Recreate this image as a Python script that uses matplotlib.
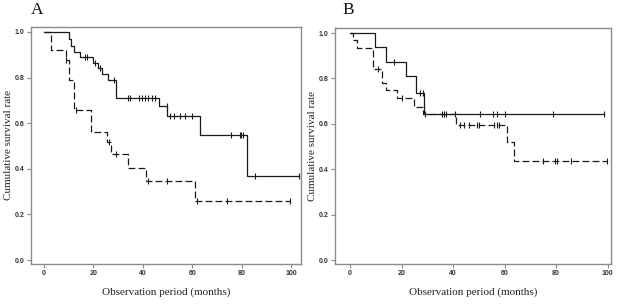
import matplotlib
matplotlib.use("Agg")
import matplotlib.pyplot as plt

# ---------------- data ----------------
# Panel A
a_solid_t = [0, 10, 11, 12, 14.5, 20, 22, 23.5, 26, 29, 46.5, 50, 63, 82]
a_solid_s = [1.0, 0.97, 0.94, 0.91, 0.89, 0.865, 0.84, 0.815, 0.79, 0.71, 0.675, 0.633, 0.55, 0.37]
a_solid_end = 103.4
a_solid_cens = [16.5, 17.5, 20.6, 22.7, 28.4, 34.2, 34.9, 38.3, 39.6, 41, 42.3, 43.7, 45,
                49.8, 50.9, 52.8, 55.2, 57.3, 60, 75.6, 79.2, 79.9, 80.6, 85.3, 103.4]

a_dash_t = [0, 2.7, 8.8, 10, 12.3, 18.9, 25.6, 27, 33.9, 41.2, 61]
a_dash_s = [1.0, 0.92, 0.878, 0.79, 0.658, 0.562, 0.517, 0.463, 0.404, 0.348, 0.26]
a_dash_end = 99.7
a_dash_cens = [9.1, 12.9, 26.5, 29, 42.3, 49.8, 62, 74.2, 99.7]

# Panel B
b_solid_t = [0, 9.6, 13.9, 21.6, 25.5, 28.6]
b_solid_s = [1.0, 0.938, 0.873, 0.81, 0.735, 0.643]
b_solid_end = 98.7
b_solid_cens = [16.9, 27.3, 28.2, 29.2, 35.7, 36.6, 37.4, 40.9, 50.3, 55.3, 56.9, 60, 78.6, 98.7]

b_dash_t = [0, 1.3, 2.9, 9.0, 12.5, 14.0, 18.4, 24.9, 28.5, 41.3, 61.0, 63.6]
b_dash_s = [1.0, 0.97, 0.935, 0.843, 0.78, 0.748, 0.713, 0.676, 0.645, 0.597, 0.52, 0.437]
b_dash_end = 99.6
b_dash_cens = [10.8, 20.0, 42.6, 44.2, 46.1, 49.4, 49.9, 55.8, 56.9, 57.8, 74.7, 79.5, 80.3, 85.7, 99.6]

x_ticks = [0, 20, 40, 60, 80, 100]
y_ticks = [0.0, 0.2, 0.4, 0.6, 0.8, 1.0]
y_tick_labels = ["0.0", "0.2", "0.4", "0.6", "0.8", "1.0"]
ylabel = "Cumulative survival rate"
xlabel = "Observation period (months)"
panel_labels = ["A", "B"]

# --------------- helpers ---------------
def surv_at(t, times, surv):
    val = surv[0]
    for ti, si in zip(times, surv):
        if t >= ti:
            val = si
    return val

def draw_curve(ax, times, surv, end, cens, ls):
    xs = list(times) + [end]
    ys = list(surv) + [surv[-1]]
    ax.step(xs, ys, where="post", color="#1a1a1a", lw=0.9, ls=ls)
    cy = [surv_at(c, times, surv) for c in cens]
    ax.plot(cens, cy, ls="none", marker="|", ms=4.5, mew=0.8, color="#1a1a1a")

fig = plt.figure(figsize=(6.17, 3.04), dpi=100)
serif = ["Liberation Serif", "DejaVu Serif"]

axes_specs = [
    ([0.050, 0.1316, 0.4376, 0.780], (-5.3, 104.0)),
    ([0.543, 0.1316, 0.447, 0.776], (-5.8, 101.2)),
]
curves = [
    [(a_solid_t, a_solid_s, a_solid_end, a_solid_cens, "-"),
     (a_dash_t, a_dash_s, a_dash_end, a_dash_cens, (0, (5.5, 2.5)))],
    [(b_solid_t, b_solid_s, b_solid_end, b_solid_cens, "-"),
     (b_dash_t, b_dash_s, b_dash_end, b_dash_cens, (0, (5.5, 2.5)))],
]

for i, (rect, xlim) in enumerate(axes_specs):
    ax = fig.add_axes(rect)
    for c in curves[i]:
        draw_curve(ax, *c)
    ax.set_xlim(*xlim)
    ax.set_ylim(-0.0175, 1.022)
    ax.set_xticks(x_ticks)
    ax.set_xticklabels([str(v) for v in x_ticks])
    ax.set_yticks(y_ticks)
    ax.set_yticklabels(y_tick_labels)
    for sp in ax.spines.values():
        sp.set_color("#8c8c8c")
        sp.set_linewidth(1.0)
    ax.tick_params(axis="both", direction="out", length=3, width=0.8, color="#8c8c8c",
                   labelsize=5, labelcolor="#333333", pad=1.5)
    for lab in ax.get_xticklabels() + ax.get_yticklabels():
        lab.set_fontweight("bold")
        lab.set_family(["Liberation Sans", "DejaVu Sans"])
    ax.set_xlabel(xlabel, family=serif, fontsize=8, labelpad=7, color="#222222")
    ax.set_ylabel(ylabel, family=serif, fontsize=8, labelpad=1.5, color="#222222")

fig.text(37 / 617, 1 - 10 / 304, panel_labels[0], family=serif, fontsize=12.5,
         ha="center", va="center", color="#111111")
fig.text(348 / 617, 1 - 10 / 304, panel_labels[1], family=serif, fontsize=12.5,
         ha="center", va="center", color="#111111")

fig.savefig("out.png", dpi=100)
